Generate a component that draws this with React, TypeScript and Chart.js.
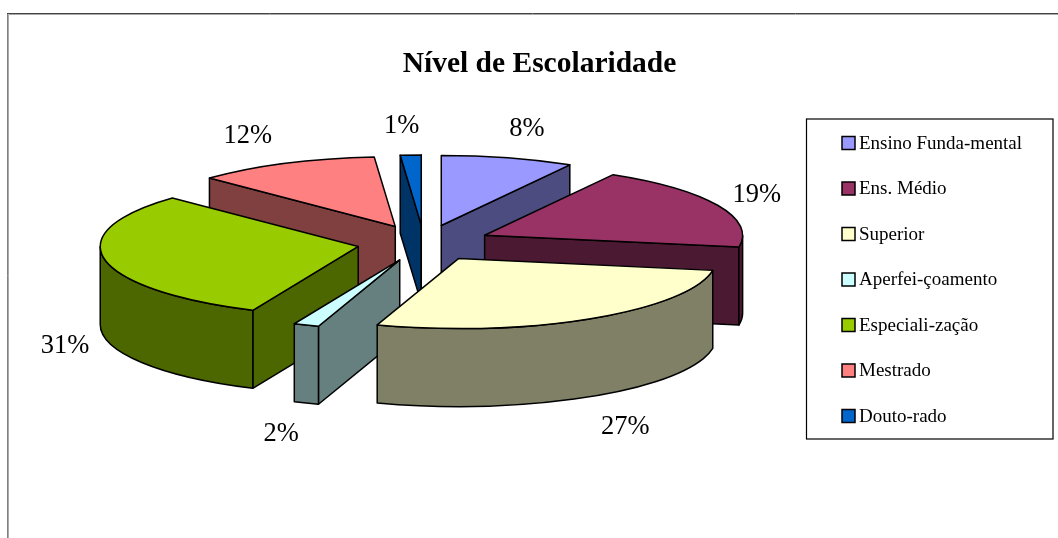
import React, { useEffect, useRef } from "react";
import { Chart, registerables } from "chart.js";

Chart.register(...registerables);

const categories = [
  "Ensino Funda-mental",
  "Ens. Médio",
  "Superior",
  "Aperfei-çoamento",
  "Especiali-zação",
  "Mestrado",
  "Douto-rado",
];
const shares = [8.3, 19.4, 27.4, 1.6, 30.5, 11.5, 1.3];
const topColors = ["#9999FF", "#993366", "#FFFFCC", "#CCFFFF", "#99CC00", "#FF8080", "#0066CC"];
const wallColors = ["#4C4C80", "#4C1933", "#808066", "#668080", "#4C6600", "#804040", "#003366"];
const titleText = "Nível de Escolaridade";

const FONT = "'Liberation Serif', serif";
const RADIUS = 258;
const SQUASH = 0.271;
const EXPLODE = 67;
const DEPTH = 78;
const CENTER_X = 424;
const CENTER_Y = 243;
// label nudges relative to each slice's outer rim (screen px)
const labelNudges: [number, number][] = [
  [19, -29], [38.6, -10], [34, 31], [-25, 31], [-40, 8], [-37, -27], [-9, -29],
];

const pie3d = {
  id: "pie3d",
  beforeDraw(chart: any) {
    const { ctx } = chart;
    ctx.save();
    ctx.lineWidth = 1;
    ctx.strokeStyle = "#a8a8a8";
    ctx.beginPath();
    ctx.moveTo(8.5, 538);
    ctx.lineTo(8.5, 14.5);
    ctx.lineTo(1058, 14.5);
    ctx.stroke();
    ctx.strokeStyle = "#808080";
    ctx.beginPath();
    ctx.moveTo(7.5, 538);
    ctx.lineTo(7.5, 13.5);
    ctx.stroke();
    ctx.strokeStyle = "#444444";
    ctx.beginPath();
    ctx.moveTo(7, 13.5);
    ctx.lineTo(1058, 13.5);
    ctx.stroke();
    ctx.strokeStyle = "#000";
    ctx.lineWidth = 1.2;
    ctx.strokeRect(806.5, 119, 246.5, 320);
    ctx.restore();
  },
  afterLayout(chart: any) {
    const l = chart.legend;
    const w = l.width;
    const h = l.height;
    l.left = 816;
    l.right = l.left + w;
    l.top = 108;
    l.bottom = l.top + h;
  },
  afterDatasetUpdate(chart: any) {
    // explode every slice along its mid angle
    for (const el of chart.getDatasetMeta(0).data) {
      const mid = (el.startAngle + el.endAngle) / 2;
      el.x += Math.cos(mid) * EXPLODE;
      el.y += Math.sin(mid) * EXPLODE;
    }
  },
  beforeDatasetDraw(chart: any) {
    const { ctx, chartArea } = chart;
    const c = { x: (chartArea.left + chartArea.right) / 2, y: (chartArea.top + chartArea.bottom) / 2 };
    const slices = chart.getDatasetMeta(0).data.map((el: any, i: number) => {
      const ax = CENTER_X + (el.x - c.x);
      const ay = CENTER_Y + (el.y - c.y) * SQUASH;
      const pt = (t: number) => [ax + Math.cos(t) * RADIUS, ay + Math.sin(t) * RADIUS * SQUASH];
      const s = el.startAngle;
      const e = el.endAngle;
      let low = Math.max(ay, pt(s)[1], pt(e)[1]);
      if (s <= Math.PI / 2 && e >= Math.PI / 2) low = ay + RADIUS * SQUASH;
      return { i, ax, ay, pt, s, e, low };
    });
    chart.$slices = slices;
    ctx.save();
    ctx.lineWidth = 1.5;
    ctx.lineJoin = "round";
    ctx.strokeStyle = "#000";
    const sorted = [...slices].sort((a: any, b: any) => a.low - b.low);
    for (const sl of sorted) {
      ctx.fillStyle = wallColors[sl.i];
      const radial = (t: number) => {
        const [x, y] = sl.pt(t);
        ctx.beginPath();
        ctx.moveTo(sl.ax, sl.ay);
        ctx.lineTo(x, y);
        ctx.lineTo(x, y + DEPTH);
        ctx.lineTo(sl.ax, sl.ay + DEPTH);
        ctx.closePath();
        ctx.fill();
        ctx.stroke();
      };
      if (Math.cos(sl.s) < 0) radial(sl.s);
      if (Math.cos(sl.e) > 0) radial(sl.e);
      const a = Math.max(sl.s, 0);
      const b = Math.min(sl.e, Math.PI);
      if (b > a) {
        ctx.beginPath();
        ctx.ellipse(sl.ax, sl.ay, RADIUS, RADIUS * SQUASH, 0, a, b);
        ctx.ellipse(sl.ax, sl.ay + DEPTH, RADIUS, RADIUS * SQUASH, 0, b, a, true);
        ctx.closePath();
        ctx.fill();
        ctx.stroke();
      }
    }
    ctx.restore();
    // the library's own arcs become the top faces
    ctx.save();
    ctx.translate(CENTER_X, CENTER_Y);
    ctx.scale(1, SQUASH);
    ctx.translate(-c.x, -c.y);
  },
  afterDatasetDraw(chart: any) {
    const { ctx } = chart;
    ctx.restore();
    ctx.save();
    ctx.lineWidth = 1.5;
    ctx.lineJoin = "round";
    ctx.strokeStyle = "#000";
    for (const sl of chart.$slices) {
      ctx.beginPath();
      ctx.moveTo(sl.ax, sl.ay);
      ctx.ellipse(sl.ax, sl.ay, RADIUS, RADIUS * SQUASH, 0, sl.s, sl.e);
      ctx.closePath();
      ctx.stroke();
    }
    ctx.fillStyle = "#000";
    ctx.font = `26.5px ${FONT}`;
    ctx.textAlign = "center";
    ctx.textBaseline = "middle";
    for (const sl of chart.$slices) {
      const mid = (sl.s + sl.e) / 2;
      const [x, y] = sl.pt(mid);
      const wall = Math.sin(mid) > 0 ? DEPTH : 0;
      const [nx, ny] = labelNudges[sl.i];
      ctx.fillText(`${Math.round(shares[sl.i])}%`, x + nx, y + wall + ny);
    }
    ctx.restore();
  },
  afterDraw(chart: any) {
    // legend swatches, placed at the legend's own item boxes
    const { ctx } = chart;
    ctx.save();
    ctx.lineWidth = 1.5;
    ctx.strokeStyle = "#000";
    chart.legend.legendHitBoxes.forEach((hit: any, i: number) => {
      const y = hit.top + hit.height / 2 - 1;
      ctx.fillStyle = topColors[i];
      ctx.fillRect(842, y - 6.5, 13, 13);
      ctx.strokeRect(842, y - 6.5, 13, 13);
    });
    ctx.restore();
  },
};

export default function App() {
  const ref = useRef<HTMLCanvasElement>(null);
  useEffect(() => {
    const chart = new Chart(ref.current!, {
      type: "pie",
      data: {
        labels: categories,
        datasets: [
          {
            data: shares,
            backgroundColor: topColors,
            borderWidth: 0,
            radius: RADIUS,
          } as any,
        ],
      },
      plugins: [pie3d],
      options: {
        animation: false,
        responsive: false,
        layout: { padding: { left: 21 } },
        plugins: {
          tooltip: { enabled: false },
          title: {
            display: true,
            text: titleText,
            color: "#000",
            font: { family: FONT, size: 29.5, weight: "bold" },
            padding: { top: 47, bottom: 0 },
          },
          legend: {
            position: "right",
            align: "start",
            labels: {
              color: "#000",
              font: { family: FONT, size: 19 },
              boxWidth: 7,
              boxHeight: 7,
              padding: 26.5,
              generateLabels() {
                return categories.map((text, i) => ({
                  text,
                  fillStyle: "rgba(0,0,0,0)",
                  strokeStyle: "rgba(0,0,0,0)",
                  lineWidth: 0,
                  index: i,
                  fontColor: "#000",
                }));
              },
            },
          },
        },
      },
    } as any);
    return () => chart.destroy();
  }, []);
  return (
    <canvas
      ref={ref}
      width={1058}
      height={538}
      style={{ position: "absolute", left: 0, top: 0, display: "block" }}
    />
  );
}
